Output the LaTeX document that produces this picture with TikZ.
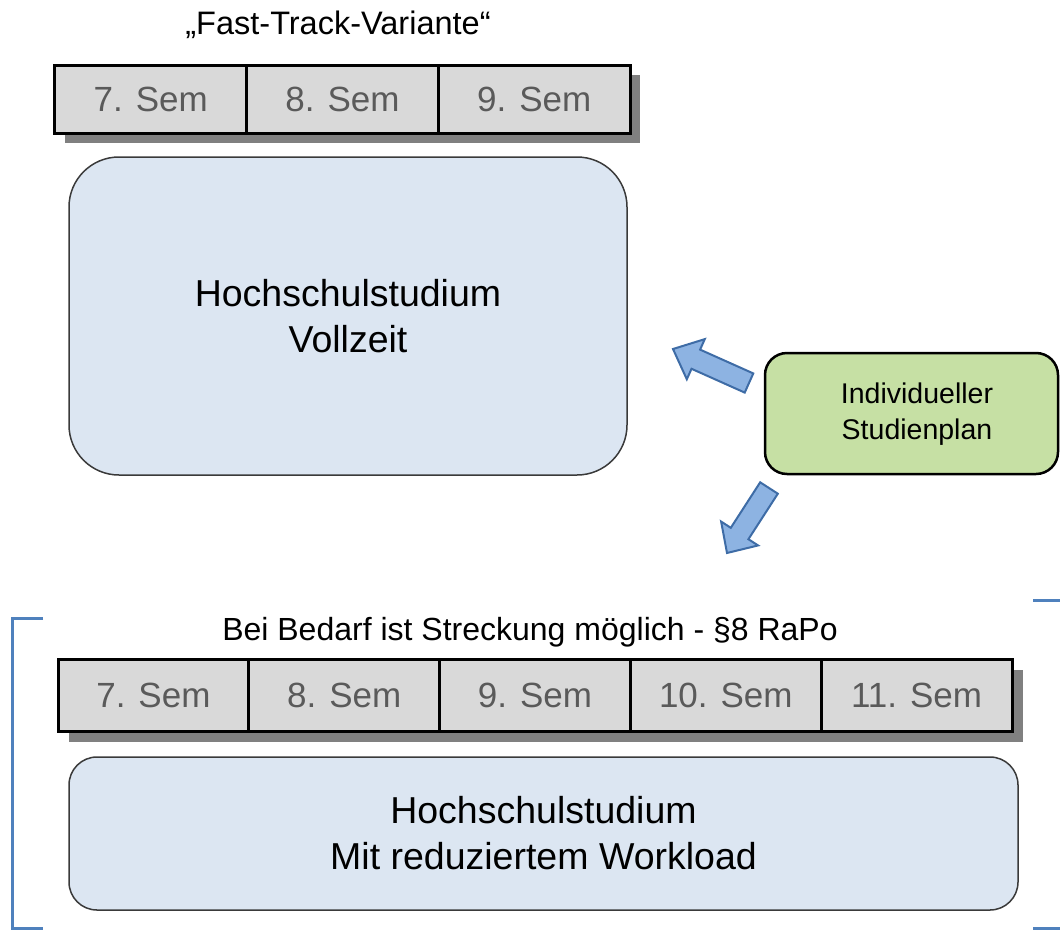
\documentclass[tikz,border=0pt]{standalone}
\usepackage{fontspec}
\setmainfont{Liberation Sans}
\usetikzlibrary{calc}

\definecolor{semfill}{HTML}{D9D9D9}
\definecolor{semtext}{HTML}{5A5A5A}
\definecolor{semshadow}{HTML}{808080}
\definecolor{studyfill}{HTML}{DCE6F2}
\definecolor{studyline}{HTML}{3A3A3A}
\definecolor{planfill}{HTML}{C6E0A4}
\definecolor{arrowfill}{HTML}{8DB3E2}
\definecolor{arrowline}{HTML}{3E6CA6}
\definecolor{bracketblue}{HTML}{4F81BD}

% block arrow from tail coordinate #1 to tip coordinate #2
\newcommand{\BlockArrow}[2]{%
  \coordinate (#1-base) at ($(#1)!0.70!(#2)$);
  \draw[blockarrow]
    ($(#1)!10.5pt!90:(#2)$) --
    ($(#1-base)!10.5pt!90:(#2)$) --
    ($(#1-base)!22pt!90:(#2)$) --
    (#2) --
    ($(#1-base)!22pt!-90:(#2)$) --
    ($(#1-base)!10.5pt!-90:(#2)$) --
    ($(#1)!10.5pt!-90:(#2)$) -- cycle;
}

\tikzset{
  semcell/.style={draw=black, line width=3pt, fill=semfill, text=semtext,
    minimum height=68pt, inner sep=0pt, font=\fontsize{35}{42}\selectfont},
  semshade/.style={fill=semshadow, draw=none},
  studybox/.style={draw=studyline, line width=1.5pt, fill=studyfill,
    align=center, inner sep=0pt, font=\fontsize{37.5}{46}\selectfont},
  planbox/.style={draw=black, line width=2.5pt, fill=planfill, rounded corners=22pt,
    align=center, inner sep=0pt},
  plantextstyle/.style={inner sep=0pt, align=center, font=\fontsize{28.5}{36}\selectfont},
  caption/.style={inner sep=0pt, font=\fontsize{32}{38}\selectfont},
  blockarrow/.style={fill=arrowfill, draw=arrowline, line width=2pt, line join=miter},
  bracketline/.style={draw=bracketblue, line width=3pt},
}

\begin{document}
\begin{tikzpicture}[x=1pt, y=-1pt]
\useasboundingbox (0,0) rectangle (1060,929);

% ---------- fast-track variant ----------
\node[caption, font=\fontsize{32.5}{38}\selectfont] (fasttitle) at (338,25) {„Fast-Track-Variante“};

\fill[semshade] (65,75) rectangle (640,143);
\node[semcell, minimum width=191.7pt] (t7) at (150.8,99) {7. Sem};
\node[semcell, minimum width=191.7pt] (t8) at (342.5,99) {8. Sem};
\node[semcell, minimum width=191.7pt] (t9) at (534.2,99) {9. Sem};

\node[studybox, rounded corners=50pt, minimum width=558pt, minimum height=318pt]
  (full) at (348,316) {Hochschulstudium\\Vollzeit};

% ---------- individual plan ----------
\node[planbox, minimum width=293pt, minimum height=121pt] (plan) at (911.5,413.5) {};
\node[plantextstyle] (plantext) at (917,414) {Individueller\\Studienplan};

\coordinate (upTail) at (749,383);
\coordinate (upTip) at (673,349);
\BlockArrow{upTail}{upTip}

\coordinate (downTail) at (769,488);
\coordinate (downTip) at (727,553);
\BlockArrow{downTail}{downTip}

% ---------- stretched variant ----------
\draw[bracketline] (43,618) -- (12,618) -- (12,928) -- (43,928);
\draw[bracketline] (1033,600) -- (1063,600) -- (1063,928) -- (1033,928);

\node[caption] (stretchtitle) at (530,632) {Bei Bedarf ist Streckung möglich - §8 RaPo};

\fill[semshade] (69,670) rectangle (1023,742);
\node[semcell, minimum width=190.8pt, minimum height=72pt] (b7) at (153.4,695) {7. Sem};
\node[semcell, minimum width=190.8pt, minimum height=72pt] (b8) at (344.2,695) {8. Sem};
\node[semcell, minimum width=190.8pt, minimum height=72pt] (b9) at (535,695) {9. Sem};
\node[semcell, minimum width=190.8pt, minimum height=72pt] (b10) at (725.8,695) {10. Sem};
\node[semcell, minimum width=190.8pt, minimum height=72pt] (b11) at (916.6,695) {11. Sem};

\node[studybox, rounded corners=28pt, minimum width=949pt, minimum height=153pt]
  (part) at (543.5,833.5) {Hochschulstudium\\Mit reduziertem Workload};
\end{tikzpicture}
\end{document}
